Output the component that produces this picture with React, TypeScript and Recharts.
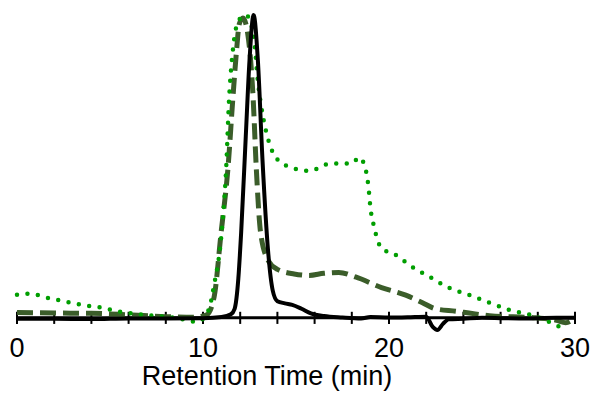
import React from "react";
import { LineChart, Line, XAxis, YAxis, ReferenceLine } from "recharts";

// retention time (min) and normalized detector signal
const solidTime = [0, 2, 4, 6, 8, 10, 11, 11.5, 11.7, 11.9, 12.05, 12.3, 12.5, 12.72, 12.95, 13.2, 13.5, 13.75, 14.0, 14.4, 14.8, 15.3, 15.8, 16.5, 17.5, 18.5, 19, 20, 21, 22.0, 22.35, 22.6, 22.9, 23.2, 24, 25, 27, 29, 30];
const solidSignal = [-0.003, -0.003, -0.004, -0.002, -0.002, -0.001, 0.003, 0.012, 0.03, 0.13, 0.28, 0.6, 0.85, 1.0, 0.85, 0.52, 0.22, 0.09, 0.055, 0.048, 0.043, 0.03, 0.015, 0.006, 0.001, -0.002, 0.003, 0.001, 0.002, 0.004, -0.03, -0.04, -0.02, -0.005, -0.003, 0, -0.002, 0, 0];

const dashedTime = [0, 2, 4, 6, 8, 9.5, 10.2, 10.6, 10.97, 11.35, 11.6, 11.8, 11.95, 12.15, 12.4, 12.7, 12.86, 13.1, 13.5, 14.0, 14.9, 15.7, 16.5, 17.3, 18.2, 19.6, 20.9, 21.8, 22.5, 23.6, 24.3, 25.4, 27.9, 29.0, 29.5, 30];
const dashedSignal = [0.018, 0.016, 0.015, 0.01, 0.004, 0.002, 0.01, 0.07, 0.28, 0.5, 0.72, 0.88, 0.97, 0.99, 0.94, 0.72, 0.5, 0.28, 0.19, 0.16, 0.145, 0.14, 0.147, 0.15, 0.135, 0.1, 0.075, 0.05, 0.03, 0.022, 0.016, 0.007, 0, -0.008, -0.016, 0];

const dottedTime = [0, 0.6, 1.8, 3.6, 4.5, 5.4, 6.8, 8.5, 9.7, 10.3, 10.6, 11.0, 11.25, 11.4, 11.6, 11.9, 12.3, 12.7, 12.97, 13.24, 13.5, 14.05, 15.1, 15.7, 16.9, 18.0, 18.4, 18.7, 18.9, 19.0, 19.2, 19.6, 20.3, 21.2, 22.2, 23.2, 24.3, 25.4, 26.5, 27.6, 28.6, 29.2, 29.6];
const dottedSignal = [0.076, 0.08, 0.064, 0.042, 0.034, 0.022, 0.01, 0.0, -0.013, 0.026, 0.11, 0.28, 0.5, 0.72, 0.88, 0.98, 1.0, 0.94, 0.77, 0.66, 0.59, 0.52, 0.49, 0.485, 0.51, 0.51, 0.53, 0.5, 0.43, 0.365, 0.3, 0.23, 0.21, 0.17, 0.135, 0.1, 0.076, 0.05, 0.026, 0.01, -0.013, -0.03, -0.042];

const timeTicks = [0, 2, 4, 6, 8, 10, 12, 14, 16, 18, 20, 22, 24, 26, 28, 30];

const toPoints = (ts: number[], vs: number[]) => ts.map((t, i) => ({ t, v: vs[i] }));

const TICK_HALF = 0.02;

export default function App() {
  const solid = toPoints(solidTime, solidSignal);
  const dashed = toPoints(dashedTime, dashedSignal);
  const dotted = toPoints(dottedTime, dottedSignal);

  return (
    <div style={{ position: "absolute", left: 0, top: 0, fontFamily: "'Liberation Sans', Arial, sans-serif", background: "#fff" }}>
      <LineChart width={592} height={401} margin={{ top: 15, right: 17, bottom: 0, left: 17 }}>
        <XAxis
          type="number"
          dataKey="t"
          domain={[0, 30]}
          ticks={timeTicks}
          tickFormatter={(v: number) => (v % 10 === 0 ? String(v) : "")}
          axisLine={false}
          tickLine={false}
          tickSize={0}
          tickMargin={5}
          height={68}
          tick={{ fill: "#000", fontSize: 27 }}
          interval={0}
          label={{ value: "Retention Time (min)", position: "insideBottom", offset: 16, dx: -29, fill: "#000", fontSize: 27 }}
        />
        <YAxis hide type="number" domain={[-0.05, 1]} />
        <ReferenceLine y={0} stroke="#000" strokeWidth={3} />
        {timeTicks.map((t) => (
          <ReferenceLine
            key={t}
            segment={[{ x: t, y: -TICK_HALF }, { x: t, y: TICK_HALF }]}
            stroke="#000"
            strokeWidth={2}
          />
        ))}
        <Line
          data={dashed}
          dataKey="v"
          type="monotone"
          stroke="#3b5d2a"
          strokeWidth={5}
          strokeDasharray="16 7"
          dot={false}
          isAnimationActive={false}
        />
        <Line
          data={dotted}
          dataKey="v"
          type="monotone"
          stroke="#009e00"
          strokeWidth={4.5}
          strokeDasharray="0 10.5"
          strokeLinecap="round"
          dot={false}
          isAnimationActive={false}
        />
        <Line
          data={solid}
          dataKey="v"
          type="monotone"
          stroke="#000"
          strokeWidth={4}
          dot={false}
          isAnimationActive={false}
        />
      </LineChart>
    </div>
  );
}
